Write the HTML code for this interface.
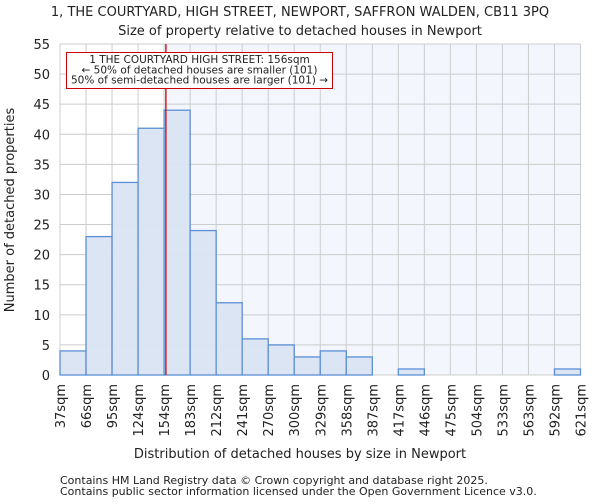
<!DOCTYPE html>
<html><head><meta charset="utf-8"><style>
body{margin:0;background:#fff;font-family:"DejaVu Sans","Liberation Sans",sans-serif}
svg text{font-family:"DejaVu Sans","Liberation Sans",sans-serif;fill:#222}
</style></head><body>
<svg id="c" width="600" height="500"></svg>
<script>
const edges=[37,66,95,124,154,183,212,241,270,300,329,358,387,417,446,475,504,533,563,592,621];
const counts=[4,23,32,41,44,24,12,6,5,3,4,3,0,1,0,0,0,0,0,1];
const yTicks=[0,5,10,15,20,25,30,35,40,45,50,55];
const marker=156;
const X0=60,X1=580.5,Y0=375,Y1=44,YMAX=55;
const xs=i=>X0+(X1-X0)*i/(edges.length-1);
const xv=v=>{for(let i=0;i<edges.length-1;i++){if(v<=edges[i+1])return xs(i)+(v-edges[i])/(edges[i+1]-edges[i])*(xs(i+1)-xs(i));}return X1;};
const y=v=>Y0-(Y0-Y1)*v/YMAX;
const s=document.getElementById('c');const NS='http://www.w3.org/2000/svg';
function el(t,a,txt){const e=document.createElementNS(NS,t);for(const k in a)e.setAttribute(k,a[k]);if(txt!=null)e.textContent=txt;s.appendChild(e);return e;}
const mx=xv(marker);
let e=el('rect',{x:X0,y:Y1,width:mx-X0,height:Y0-Y1,fill:'#ffffff'});


e=el('rect',{x:mx,y:Y1,width:X1-mx,height:Y0-Y1,fill:'#f3f6fd'});


yTicks.forEach(t=>{
 e=el('line',{x1:X0,x2:X1,y1:y(t),y2:y(t),stroke:'#cccccc','stroke-width':1});
 
 
 e=el('text',{x:X0-10,y:y(t)+5,'text-anchor':'end','font-size':13},t);
 
 
});
edges.forEach((v,i)=>{
 e=el('line',{x1:xs(i),x2:xs(i),y1:Y1,y2:Y0,stroke:'#cccccc','stroke-width':1});
 
 
 e=el('text',{transform:`translate(${xs(i)+5},${Y0+9}) rotate(-90)`,'text-anchor':'end','font-size':13},v+'sqm');
 
 
});
counts.forEach((c,i)=>{
 if(c<=0)return;
 e=el('rect',{x:xs(i),y:y(c),width:xs(i+1)-xs(i),height:Y0-y(c),fill:'#dae4f3',stroke:'#5b8fd6','stroke-width':1.3,'fill-opacity':0.95});
 
 
});
e=el('line',{x1:mx,x2:mx,y1:Y1,y2:Y0,stroke:'#cc0000','stroke-width':1.3});


e=el('rect',{x:66.5,y:52.5,width:266,height:36,fill:'#fff',stroke:'#cc0000','stroke-width':1});


['1 THE COURTYARD HIGH STREET: 156sqm','← 50% of detached houses are smaller (101)','50% of semi-detached houses are larger (101) →'].forEach((t,i)=>{
 e=el('text',{x:199.5,y:63+i*10.3,'text-anchor':'middle','font-size':10.5,fill:'#111'},t);
 
 
});
e=el('text',{x:300,y:16,'text-anchor':'middle','font-size':13},'1, THE COURTYARD, HIGH STREET, NEWPORT, SAFFRON WALDEN, CB11 3PQ');


e=el('text',{x:300,y:35,'text-anchor':'middle','font-size':13},'Size of property relative to detached houses in Newport');


e=el('text',{x:300,y:458,'text-anchor':'middle','font-size':13},'Distribution of detached houses by size in Newport');


e=el('text',{transform:'translate(14,210) rotate(-90)','text-anchor':'middle','font-size':13},'Number of detached properties');


e=el('text',{x:60,y:484,'font-size':11,fill:'#444'},'Contains HM Land Registry data © Crown copyright and database right 2025.');


e=el('text',{x:60,y:495,'font-size':11,fill:'#444'},'Contains public sector information licensed under the Open Government Licence v3.0.');


</script>
</body></html>
